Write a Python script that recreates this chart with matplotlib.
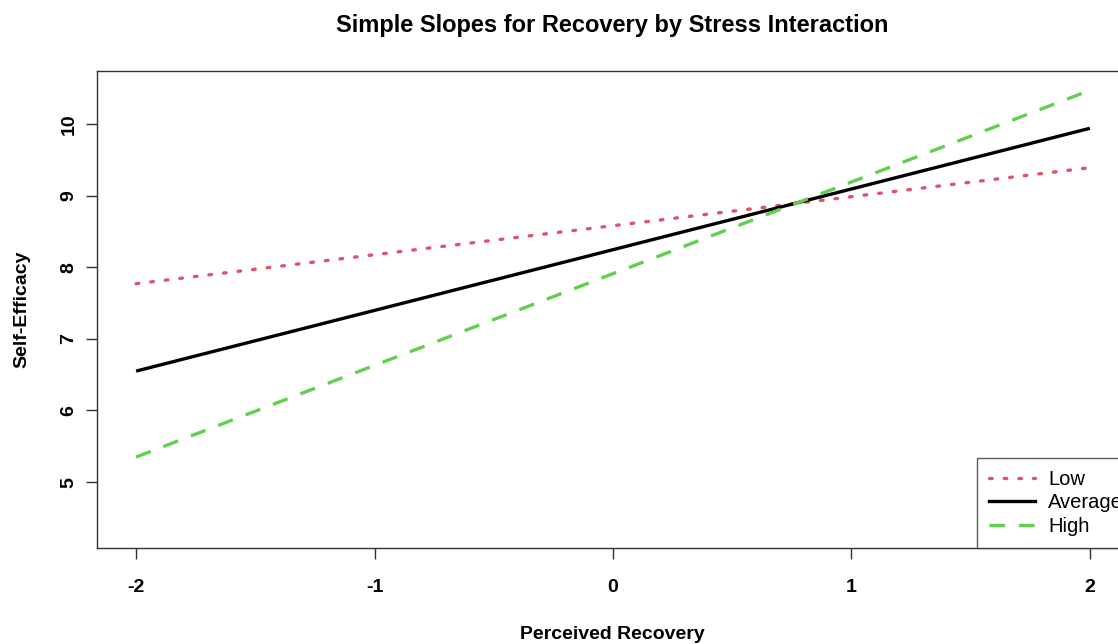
import matplotlib
matplotlib.use("Agg")
import matplotlib.pyplot as plt
from matplotlib.lines import Line2D

plt.rcParams['font.family'] = ['Liberation Sans', 'DejaVu Sans']

# Simple slopes at Perceived Recovery = -2 and 2
recovery = [-2, 2]
low_stress = [7.77, 9.39]
average_stress = [6.55, 9.94]
high_stress = [5.35, 10.47]
group_labels = ["Low", "Average", "High"]

x_ticks = [-2, -1, 0, 1, 2]
y_ticks = [5, 6, 7, 8, 9, 10]

fig = plt.figure(figsize=(11.18, 6.44), dpi=100)
ax = fig.add_axes([97 / 1118, 1 - 548 / 644, (1128 - 97) / 1118, (548 - 71) / 644])

lw = 2.4
dotted = (0, (0.8, 3.6))
dashed = (0, (4.7, 4.1))
ax.plot(recovery, low_stress, color="#DF536B", lw=lw, linestyle=dotted, dash_capstyle="round")
ax.plot(recovery, average_stress, color="black", lw=lw, solid_capstyle="butt")
ax.plot(recovery, high_stress, color="#61D04F", lw=lw, linestyle=dashed)

ax.set_xlim(-2.164, 2.16)
ax.set_ylim(4.08, 10.74)

ax.set_xticks(x_ticks)
ax.set_xticklabels([str(v) for v in x_ticks], fontweight="bold", fontsize=14)
ax.set_yticks(y_ticks)
ax.set_yticklabels([str(v) for v in y_ticks], fontweight="bold", fontsize=14, rotation=90, va="center")
ax.tick_params(axis="x", length=8, width=1, color="#333333", pad=14)
ax.tick_params(axis="y", length=8, width=1, color="#333333", pad=6)

for s in ax.spines.values():
    s.set_color("#333333")
    s.set_linewidth(1)

ax.set_title("Simple Slopes for Recovery by Stress Interaction", fontweight="bold", fontsize=17, pad=28)
ax.set_xlabel("Perceived Recovery", fontweight="bold", fontsize=14, labelpad=22)
ax.set_ylabel("Self-Efficacy", fontweight="bold", fontsize=14, labelpad=22)

# legend sits in the bottom-right corner, partly past the figure edge like the original
handles = [
    Line2D([], [], color="#DF536B", lw=lw, linestyle=dotted, dash_capstyle="round"),
    Line2D([], [], color="black", lw=lw),
    Line2D([], [], color="#61D04F", lw=lw, linestyle=dashed),
]
leg = ax.legend(handles, group_labels, loc="lower right", bbox_to_anchor=(1 + 7 / 1031, 0),
                fontsize=14.5, frameon=True, fancybox=False,
                borderaxespad=0, handlelength=2.3, handletextpad=0.65, labelspacing=0.22,
                borderpad=0.6, edgecolor="#333333")
leg.get_frame().set_linewidth(1)

fig.savefig("out.png", dpi=100)
